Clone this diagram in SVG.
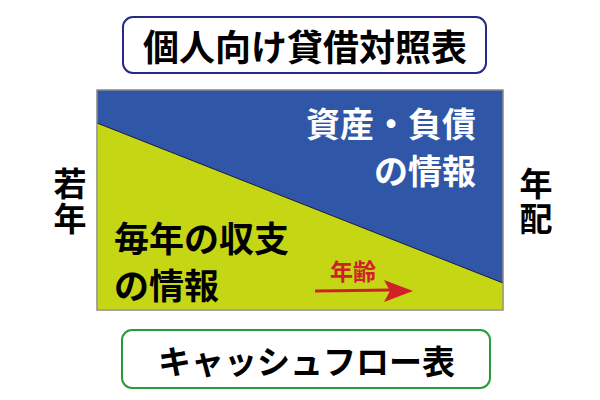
<svg xmlns="http://www.w3.org/2000/svg" width="600" height="400" viewBox="0 0 600 400">
<style>
text{font-family:"Noto Sans CJK JP","Noto Sans",sans-serif;font-weight:bold}
.box{fill:#fff;stroke-width:2}
.v{writing-mode:vertical-rl;font-size:33px;letter-spacing:2px;fill:#000}
</style>
<rect width="600" height="400" fill="#fff"/>
<g id="title">
<rect class="box" x="123" y="17" width="363" height="56" rx="10" stroke="#27288a"/>
<text x="143" y="61" font-size="36" fill="#000">個人向け貸借対照表</text>
</g>
<g id="chart">
<rect x="97" y="90" width="406" height="220" fill="#3056a8" stroke="#888" stroke-width="1"/>
<polygon points="97,123 503,283 503,310 97,310" fill="#c5d614"/>
<line x1="97" y1="123" x2="503" y2="283" stroke="#1a1a40" stroke-width="1"/>
<rect x="97" y="90" width="406" height="220" fill="none" stroke="#888" stroke-width="1"/>
<text x="306" y="137" font-size="34" fill="#fff">資産・負債</text>
<text x="374" y="184" font-size="34" fill="#fff">の情報</text>
<text x="114" y="252" font-size="35" fill="#000">毎年の収支</text>
<text x="114" y="299" font-size="35" fill="#000">の情報</text>
<text x="330" y="280" font-size="23" fill="#d0202a">年齢</text>
<path d="M315 291 L392 290" stroke="#d0202a" stroke-width="3" fill="none"/>
<polygon points="384,280 413,291 384,302 390,291" fill="#d0202a"/>
</g>
<g id="left-label">
<text class="v" x="70" y="167">若年</text>
</g>
<g id="right-label">
<text class="v" x="536" y="167">年配</text>
</g>
<g id="cashflow">
<rect class="box" x="122" y="330" width="368" height="58" rx="10" stroke="#2a9a3a"/>
<text x="158" y="374" font-size="33" fill="#000">キャッシュフロー表</text>
</g>
</svg>
